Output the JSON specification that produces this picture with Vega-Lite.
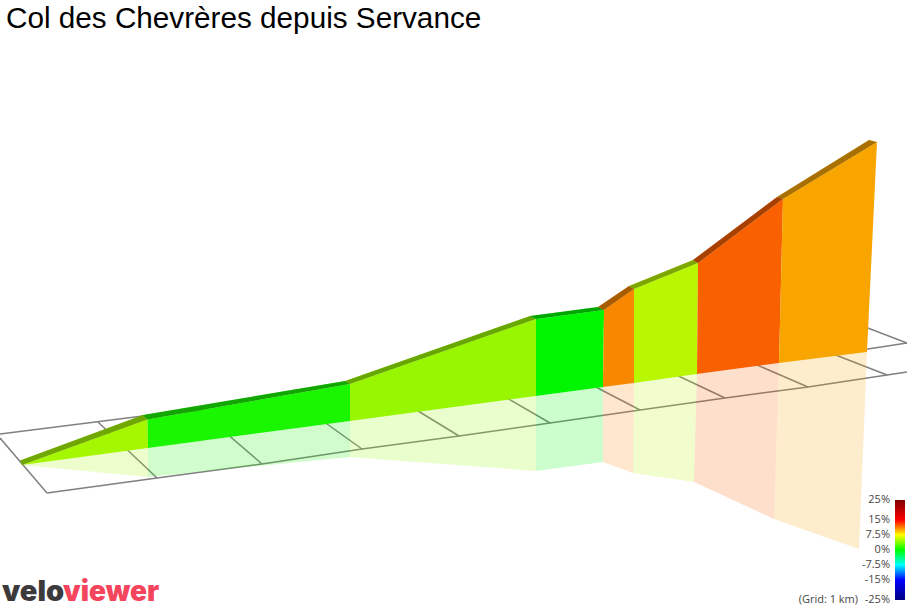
{
  "$schema": "https://vega.github.io/schema/vega-lite/v6.json",
  "width": 907,
  "height": 607,
  "padding": 0,
  "autosize": "none",
  "background": "white",
  "datasets": {
    "grid": [
      {"line": "back", "n": 0, "across": 0, "down": 434}, {"line": "back", "n": 1, "across": 143, "down": 416}, {"line": "back", "n": 2, "across": 868, "down": 349}, {"line": "back", "n": 3, "across": 907, "down": 343},
      {"line": "front", "n": 0, "across": 47, "down": 493}, {"line": "front", "n": 1, "across": 157, "down": 478}, {"line": "front", "n": 2, "across": 262, "down": 464}, {"line": "front", "n": 3, "across": 362, "down": 449}, {"line": "front", "n": 4, "across": 459, "down": 436}, {"line": "front", "n": 5, "across": 550, "down": 423}, {"line": "front", "n": 6, "across": 640, "down": 410}, {"line": "front", "n": 7, "across": 725, "down": 398}, {"line": "front", "n": 8, "across": 808, "down": 387}, {"line": "front", "n": 9, "across": 887, "down": 375}, {"line": "front", "n": 10, "across": 907, "down": 372},
      {"line": "km0", "n": 0, "across": 0, "down": 438}, {"line": "km0", "n": 1, "across": 47, "down": 493},
      {"line": "km1", "n": 0, "across": 98, "down": 422}, {"line": "km1", "n": 1, "across": 157, "down": 478},
      {"line": "km2", "n": 0, "across": 205, "down": 415}, {"line": "km2", "n": 1, "across": 262, "down": 464},
      {"line": "km3", "n": 0, "across": 320, "down": 419}, {"line": "km3", "n": 1, "across": 362, "down": 449},
      {"line": "km4", "n": 0, "across": 405, "down": 403}, {"line": "km4", "n": 1, "across": 459, "down": 436},
      {"line": "km5", "n": 0, "across": 500, "down": 394}, {"line": "km5", "n": 1, "across": 550, "down": 423},
      {"line": "km6", "n": 0, "across": 590, "down": 384}, {"line": "km6", "n": 1, "across": 640, "down": 410},
      {"line": "km7", "n": 0, "across": 670, "down": 372}, {"line": "km7", "n": 1, "across": 725, "down": 398},
      {"line": "km8", "n": 0, "across": 750, "down": 362}, {"line": "km8", "n": 1, "across": 808, "down": 387},
      {"line": "km9", "n": 0, "across": 828, "down": 352}, {"line": "km9", "n": 1, "across": 887, "down": 375},
      {"line": "km10", "n": 0, "across": 860, "down": 325}, {"line": "km10", "n": 1, "across": 907, "down": 343}
    ],
    "faces": [
      {"face": "wall", "seg": 1, "grade": 5.0, "n": 0, "across": 22, "down": 465}, {"face": "wall", "seg": 1, "grade": 5.0, "n": 1, "across": 147.5, "down": 419.5}, {"face": "wall", "seg": 1, "grade": 5.0, "n": 2, "across": 148, "down": 448},
      {"face": "wall", "seg": 2, "grade": 0.8, "n": 0, "across": 148, "down": 448}, {"face": "wall", "seg": 2, "grade": 0.8, "n": 1, "across": 147.5, "down": 419.5}, {"face": "wall", "seg": 2, "grade": 0.8, "n": 2, "across": 350, "down": 384}, {"face": "wall", "seg": 2, "grade": 0.8, "n": 3, "across": 350, "down": 421},
      {"face": "wall", "seg": 3, "grade": 4.6, "n": 0, "across": 350, "down": 421}, {"face": "wall", "seg": 3, "grade": 4.6, "n": 1, "across": 350, "down": 384}, {"face": "wall", "seg": 3, "grade": 4.6, "n": 2, "across": 536, "down": 319}, {"face": "wall", "seg": 3, "grade": 4.6, "n": 3, "across": 536, "down": 396},
      {"face": "wall", "seg": 4, "grade": 0, "n": 0, "across": 536, "down": 396}, {"face": "wall", "seg": 4, "grade": 0, "n": 1, "across": 536, "down": 319}, {"face": "wall", "seg": 4, "grade": 0, "n": 2, "across": 604, "down": 310}, {"face": "wall", "seg": 4, "grade": 0, "n": 3, "across": 603, "down": 387},
      {"face": "wall", "seg": 5, "grade": 10.9, "n": 0, "across": 603, "down": 387}, {"face": "wall", "seg": 5, "grade": 10.9, "n": 1, "across": 604, "down": 310}, {"face": "wall", "seg": 5, "grade": 10.9, "n": 2, "across": 634, "down": 289}, {"face": "wall", "seg": 5, "grade": 10.9, "n": 3, "across": 634, "down": 383},
      {"face": "wall", "seg": 6, "grade": 5.6, "n": 0, "across": 634, "down": 383}, {"face": "wall", "seg": 6, "grade": 5.6, "n": 1, "across": 634, "down": 289}, {"face": "wall", "seg": 6, "grade": 5.6, "n": 2, "across": 698, "down": 263}, {"face": "wall", "seg": 6, "grade": 5.6, "n": 3, "across": 697, "down": 374},
      {"face": "wall", "seg": 7, "grade": 12.1, "n": 0, "across": 697, "down": 374}, {"face": "wall", "seg": 7, "grade": 12.1, "n": 1, "across": 698, "down": 263}, {"face": "wall", "seg": 7, "grade": 12.1, "n": 2, "across": 783, "down": 199}, {"face": "wall", "seg": 7, "grade": 12.1, "n": 3, "across": 779, "down": 363},
      {"face": "wall", "seg": 8, "grade": 10.0, "n": 0, "across": 779, "down": 363}, {"face": "wall", "seg": 8, "grade": 10.0, "n": 1, "across": 783, "down": 199}, {"face": "wall", "seg": 8, "grade": 10.0, "n": 2, "across": 877, "down": 142}, {"face": "wall", "seg": 8, "grade": 10.0, "n": 3, "across": 867, "down": 352},

      {"face": "mirror", "seg": 1, "grade": 5.0, "n": 0, "across": 22, "down": 465}, {"face": "mirror", "seg": 1, "grade": 5.0, "n": 1, "across": 148, "down": 448}, {"face": "mirror", "seg": 1, "grade": 5.0, "n": 2, "across": 148, "down": 477},
      {"face": "mirror", "seg": 2, "grade": 0.8, "n": 0, "across": 148, "down": 448}, {"face": "mirror", "seg": 2, "grade": 0.8, "n": 1, "across": 350, "down": 421}, {"face": "mirror", "seg": 2, "grade": 0.8, "n": 2, "across": 350, "down": 457}, {"face": "mirror", "seg": 2, "grade": 0.8, "n": 3, "across": 148, "down": 477},
      {"face": "mirror", "seg": 3, "grade": 4.6, "n": 0, "across": 350, "down": 421}, {"face": "mirror", "seg": 3, "grade": 4.6, "n": 1, "across": 536, "down": 396}, {"face": "mirror", "seg": 3, "grade": 4.6, "n": 2, "across": 536, "down": 471}, {"face": "mirror", "seg": 3, "grade": 4.6, "n": 3, "across": 350, "down": 457},
      {"face": "mirror", "seg": 4, "grade": 0, "n": 0, "across": 536, "down": 396}, {"face": "mirror", "seg": 4, "grade": 0, "n": 1, "across": 603, "down": 387}, {"face": "mirror", "seg": 4, "grade": 0, "n": 2, "across": 603, "down": 462}, {"face": "mirror", "seg": 4, "grade": 0, "n": 3, "across": 536, "down": 471},
      {"face": "mirror", "seg": 5, "grade": 10.9, "n": 0, "across": 603, "down": 387}, {"face": "mirror", "seg": 5, "grade": 10.9, "n": 1, "across": 634, "down": 383}, {"face": "mirror", "seg": 5, "grade": 10.9, "n": 2, "across": 633, "down": 473}, {"face": "mirror", "seg": 5, "grade": 10.9, "n": 3, "across": 603, "down": 462},
      {"face": "mirror", "seg": 6, "grade": 5.6, "n": 0, "across": 634, "down": 383}, {"face": "mirror", "seg": 6, "grade": 5.6, "n": 1, "across": 697, "down": 374}, {"face": "mirror", "seg": 6, "grade": 5.6, "n": 2, "across": 694, "down": 482}, {"face": "mirror", "seg": 6, "grade": 5.6, "n": 3, "across": 633, "down": 473},
      {"face": "mirror", "seg": 7, "grade": 12.1, "n": 0, "across": 697, "down": 374}, {"face": "mirror", "seg": 7, "grade": 12.1, "n": 1, "across": 779, "down": 363}, {"face": "mirror", "seg": 7, "grade": 12.1, "n": 2, "across": 774, "down": 519}, {"face": "mirror", "seg": 7, "grade": 12.1, "n": 3, "across": 694, "down": 482},
      {"face": "mirror", "seg": 8, "grade": 10.0, "n": 0, "across": 779, "down": 363}, {"face": "mirror", "seg": 8, "grade": 10.0, "n": 1, "across": 867, "down": 352}, {"face": "mirror", "seg": 8, "grade": 10.0, "n": 2, "across": 859, "down": 549}, {"face": "mirror", "seg": 8, "grade": 10.0, "n": 3, "across": 774, "down": 519},

      {"face": "road", "seg": 1, "grade": 5.0, "n": 0, "across": 22, "down": 465}, {"face": "road", "seg": 1, "grade": 5.0, "n": 1, "across": 20, "down": 460.5}, {"face": "road", "seg": 1, "grade": 5.0, "n": 2, "across": 143, "down": 415}, {"face": "road", "seg": 1, "grade": 5.0, "n": 3, "across": 147.5, "down": 419.5},
      {"face": "road", "seg": 2, "grade": 0.8, "n": 0, "across": 147.5, "down": 419.5}, {"face": "road", "seg": 2, "grade": 0.8, "n": 1, "across": 143, "down": 415}, {"face": "road", "seg": 2, "grade": 0.8, "n": 2, "across": 345, "down": 381}, {"face": "road", "seg": 2, "grade": 0.8, "n": 3, "across": 350, "down": 384},
      {"face": "road", "seg": 3, "grade": 4.6, "n": 0, "across": 350, "down": 384}, {"face": "road", "seg": 3, "grade": 4.6, "n": 1, "across": 345, "down": 381}, {"face": "road", "seg": 3, "grade": 4.6, "n": 2, "across": 530, "down": 316}, {"face": "road", "seg": 3, "grade": 4.6, "n": 3, "across": 536, "down": 319},
      {"face": "road", "seg": 4, "grade": 0, "n": 0, "across": 536, "down": 319}, {"face": "road", "seg": 4, "grade": 0, "n": 1, "across": 530, "down": 316}, {"face": "road", "seg": 4, "grade": 0, "n": 2, "across": 598, "down": 307}, {"face": "road", "seg": 4, "grade": 0, "n": 3, "across": 604, "down": 310},
      {"face": "road", "seg": 5, "grade": 10.9, "n": 0, "across": 604, "down": 310}, {"face": "road", "seg": 5, "grade": 10.9, "n": 1, "across": 598, "down": 307}, {"face": "road", "seg": 5, "grade": 10.9, "n": 2, "across": 629, "down": 286}, {"face": "road", "seg": 5, "grade": 10.9, "n": 3, "across": 634, "down": 289},
      {"face": "road", "seg": 6, "grade": 5.6, "n": 0, "across": 634, "down": 289}, {"face": "road", "seg": 6, "grade": 5.6, "n": 1, "across": 629, "down": 286}, {"face": "road", "seg": 6, "grade": 5.6, "n": 2, "across": 693, "down": 260}, {"face": "road", "seg": 6, "grade": 5.6, "n": 3, "across": 698, "down": 263},
      {"face": "road", "seg": 7, "grade": 12.1, "n": 0, "across": 698, "down": 263}, {"face": "road", "seg": 7, "grade": 12.1, "n": 1, "across": 693, "down": 260}, {"face": "road", "seg": 7, "grade": 12.1, "n": 2, "across": 777, "down": 197}, {"face": "road", "seg": 7, "grade": 12.1, "n": 3, "across": 783, "down": 199},
      {"face": "road", "seg": 8, "grade": 10.0, "n": 0, "across": 783, "down": 199}, {"face": "road", "seg": 8, "grade": 10.0, "n": 1, "across": 777, "down": 197}, {"face": "road", "seg": 8, "grade": 10.0, "n": 2, "across": 869, "down": 140}, {"face": "road", "seg": 8, "grade": 10.0, "n": 3, "across": 877, "down": 142}
    ],
    "legend": [
      {"label": "25%", "across": 890, "down": 500}, {"label": "15%", "across": 890, "down": 520}, {"label": "7.5%", "across": 890, "down": 535}, {"label": "0%", "across": 890, "down": 550}, {"label": "-7.5%", "across": 890, "down": 565}, {"label": "-15%", "across": 890, "down": 580}, {"label": "-25%", "across": 890, "down": 600}, {"label": "(Grid: 1 km)", "across": 858, "down": 600}
    ]
  },
  "encoding": {
    "x": {"field": "across", "type": "quantitative", "axis": null, "scale": {"domain": [0, 907], "range": [0, 907], "nice": false, "zero": false}},
    "y": {"field": "down", "type": "quantitative", "axis": null, "scale": {"domain": [0, 607], "range": [0, 607], "nice": false, "zero": false}}
  },
  "layer": [
    {
      "data": {"name": "grid"},
      "mark": {"type": "line", "stroke": "#808080", "strokeWidth": 1.5, "clip": true},
      "encoding": {"detail": {"field": "line"}, "order": {"field": "n"}}
    },
    {
      "data": {"name": "faces"},
      "transform": [{"filter": "datum.face == 'mirror'"}],
      "mark": {"type": "line", "strokeWidth": 0, "fillOpacity": 0.2},
      "encoding": {
        "detail": {"field": "seg"},
        "order": {"field": "n"},
        "fill": {"field": "grade", "type": "quantitative", "legend": null, "scale": {"domain": [-25, -15, -7.5, 0, 7.5, 15, 25], "range": ["#000080", "#0000f8", "#00f8f8", "#00f500", "#f8f800", "#f80000", "#800000"], "interpolate": "rgb"}}
      }
    },
    {
      "data": {"name": "faces"},
      "transform": [{"filter": "datum.face == 'wall'"}],
      "mark": {"type": "line", "strokeWidth": 0},
      "encoding": {
        "detail": {"field": "seg"},
        "order": {"field": "n"},
        "fill": {"field": "grade", "type": "quantitative", "legend": null}
      }
    },
    {
      "data": {"name": "faces"},
      "transform": [{"filter": "datum.face == 'road'"}],
      "mark": {"type": "line", "strokeWidth": 0},
      "encoding": {
        "detail": {"field": "seg"},
        "order": {"field": "n"},
        "fill": {"field": "grade", "type": "quantitative", "legend": null}
      }
    },
    {
      "data": {"name": "faces"},
      "transform": [{"filter": "datum.face == 'road'"}],
      "mark": {"type": "line", "strokeWidth": 0, "fill": "#000000", "fillOpacity": 0.32},
      "encoding": {"detail": {"field": "seg"}, "order": {"field": "n"}}
    },
    {
      "data": {"values": [{"across": 895, "across2": 905, "down": 500, "down2": 600}]},
      "mark": {"type": "rect", "color": {"gradient": "linear", "x1": 0, "y1": 0, "x2": 0, "y2": 1, "stops": [
        {"offset": 0, "color": "#800000"}, {"offset": 0.2, "color": "#ff0000"}, {"offset": 0.35, "color": "#ffff00"}, {"offset": 0.5, "color": "#00ff00"}, {"offset": 0.65, "color": "#00ffff"}, {"offset": 0.8, "color": "#0000ff"}, {"offset": 1, "color": "#000080"}
      ]}},
      "encoding": {"x2": {"field": "across2"}, "y2": {"field": "down2"}}
    },
    {
      "data": {"name": "legend"},
      "mark": {"type": "text", "align": "right", "baseline": "middle", "font": "Open Sans", "fontSize": 11, "color": "#444444"},
      "encoding": {"text": {"field": "label"}}
    },
    {
      "data": {"values": [{"word": "Col des Chevrères depuis Servance", "across": 6, "down": 28}]},
      "mark": {"type": "text", "align": "left", "baseline": "alphabetic", "font": "Liberation Sans", "fontSize": 29.7, "color": "#000000"},
      "encoding": {"text": {"field": "word"}}
    },
    {
      "data": {"values": [{"word": "velo", "across": 2, "down": 601}]},
      "mark": {"type": "text", "align": "left", "baseline": "alphabetic", "font": "Inter", "fontWeight": 900, "fontSize": 29, "color": "#3c3a3a"},
      "encoding": {"text": {"field": "word"}}
    },
    {
      "data": {"values": [{"word": "viewer", "across": 63, "down": 601}]},
      "mark": {"type": "text", "align": "left", "baseline": "alphabetic", "font": "Inter", "fontWeight": 900, "fontSize": 28, "color": "#f5455c"},
      "encoding": {"text": {"field": "word"}}
    }
  ],
  "config": {"view": {"stroke": null}}
}
